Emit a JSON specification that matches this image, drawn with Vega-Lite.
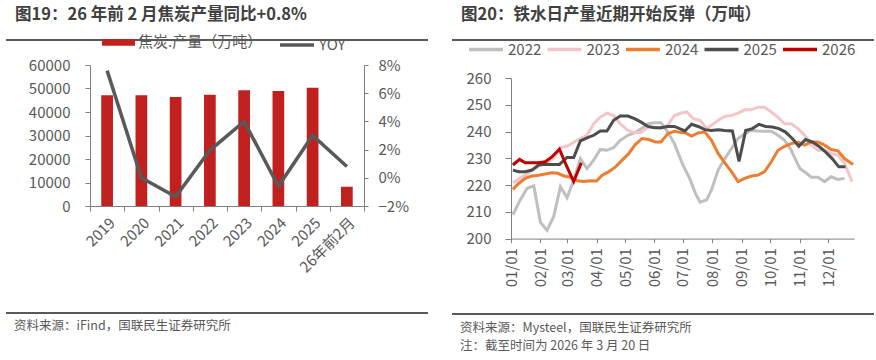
{
  "$schema": "https://vega.github.io/schema/vega-lite/v6.json",
  "padding": {"left": 5, "top": 6, "right": 0, "bottom": 0},
  "spacing": 22,
  "resolve": {"scale": {"color": "independent", "stroke": "independent"}, "legend": {"color": "independent", "stroke": "independent"}},
  "config": {
    "font": "Noto Sans CJK SC",
    "view": {"stroke": null},
    "axis": {"labelFont": "Noto Sans CJK SC", "labelFontSize": 15, "labelColor": "#595959", "domainColor": "#808080", "tickColor": "#808080", "grid": false},
    "legend": {"labelFont": "Noto Sans CJK SC", "labelColor": "#595959"},
    "title": {"font": "Noto Sans CJK SC"}
  },
  "hconcat": [
    {
      "spacing": 0,
      "vconcat": [
        {
          "width": 422, "height": 18,
          "title": {"text": "图19：26 年前 2 月焦炭产量同比+0.8%", "anchor": "start", "dx": 10, "offset": 0, "baseline": "bottom", "fontSize": 16.5, "fontWeight": "bold", "color": "#404040"},
          "data": {"values": [{"a": 0}]},
          "mark": {"type": "rule", "color": "#595959", "strokeWidth": 2},
          "encoding": {
            "x": {"datum": 0, "type": "quantitative", "scale": {"domain": [0, 1]}, "axis": null},
            "x2": {"datum": 1},
            "y": {"datum": 1, "type": "quantitative", "scale": {"domain": [0, 1]}, "axis": null}
          }
        },
        {
          "spacing": 0,
          "hconcat": [
            {
              "width": 1, "height": 1,
              "data": {"values": [{"a": 0}]},
              "mark": {"type": "text", "text": ""},
              "encoding": {}
            },
            {
              "width": 274, "height": 141,
              "data": {"values": [
                {"period": "2019", "prod": 47100, "yoy": 0.076},
                {"period": "2020", "prod": 47100, "yoy": 0.0},
                {"period": "2021", "prod": 46400, "yoy": -0.0135},
                {"period": "2022", "prod": 47300, "yoy": 0.0195},
                {"period": "2023", "prod": 49260, "yoy": 0.04},
                {"period": "2024", "prod": 48900, "yoy": -0.006},
                {"period": "2025", "prod": 50300, "yoy": 0.03},
                {"period": "26年前2月", "prod": 8230, "yoy": 0.008}
              ]},
              "encoding": {
                "x": {"field": "period", "type": "nominal", "sort": null, "scale": {"paddingInner": 0, "paddingOuter": 0},
                  "axis": {"title": null, "tickBand": "extent", "labelAngle": -45, "labelAlign": "right", "labelBaseline": "top", "tickSize": 5, "labelPadding": 4, "minExtent": 105.7, "maxExtent": 105.7}}
              },
              "layer": [
                {
                  "mark": {"type": "bar", "size": 11.7},
                  "encoding": {
                    "y": {"field": "prod", "type": "quantitative", "scale": {"domain": [0, 60000]},
                      "axis": {"orient": "left", "title": null, "values": [0, 10000, 20000, 30000, 40000, 50000, 60000], "format": "d", "tickSize": 5, "labelPadding": 15, "minExtent": 82.7, "maxExtent": 82.7}},
                    "color": {"datum": "焦炭:产量（万吨）", "type": "nominal", "scale": {"range": ["#C0201E"]},
                      "legend": {"orient": "none", "legendX": 96, "legendY": -14.1, "title": null, "symbolType": "M-1,-0.21H1V0.21H-1Z", "symbolSize": 1089, "symbolStrokeWidth": 0, "labelFontSize": 15, "labelOffset": 3}}
                  }
                },
                {
                  "mark": {"type": "line", "strokeWidth": 3.5},
                  "encoding": {
                    "y": {"field": "yoy", "type": "quantitative", "scale": {"domain": [-0.02, 0.08]},
                      "axis": {"orient": "right", "title": null, "values": [-0.02, 0, 0.02, 0.04, 0.06, 0.08], "format": ".0%", "tickSize": 4, "labelPadding": 10, "minExtent": 64.3, "maxExtent": 64.3}},
                    "stroke": {"datum": "YOY", "type": "nominal", "scale": {"range": ["#595959"]},
                      "legend": {"orient": "none", "legendX": 272, "legendY": -14.1, "title": null, "symbolType": "stroke", "symbolSize": 1156, "symbolStrokeWidth": 3.5, "labelFontSize": 15, "labelOffset": 3}}
                  }
                }
              ],
              "resolve": {"scale": {"y": "independent"}}
            }
          ]
        },
        {
          "width": 422, "height": 1,
          "title": {"text": "资料来源：iFind，国联民生证券研究所", "orient": "bottom", "anchor": "start", "dx": 9, "offset": 6, "fontSize": 12.5, "fontWeight": "normal", "color": "#595959"},
          "data": {"values": [{"a": 0}]},
          "mark": {"type": "rule", "color": "#595959", "strokeWidth": 2},
          "encoding": {
            "x": {"datum": 0, "type": "quantitative", "scale": {"domain": [0, 1]}, "axis": null},
            "x2": {"datum": 1},
            "y": {"datum": 1, "type": "quantitative", "scale": {"domain": [0, 1]}, "axis": null}
          }
        }
      ]
    },
    {
      "spacing": 0,
      "vconcat": [
        {
          "width": 422, "height": 30.1,
          "title": {"text": "图20：铁水日产量近期开始反弹（万吨）", "anchor": "start", "dx": 10, "offset": 0, "baseline": "bottom", "fontSize": 16.5, "fontWeight": "bold", "color": "#404040"},
          "data": {"values": [{"a": 0}]},
          "mark": {"type": "rule", "color": "#595959", "strokeWidth": 2},
          "encoding": {
            "x": {"datum": 0, "type": "quantitative", "scale": {"domain": [0, 1]}, "axis": null},
            "x2": {"datum": 1},
            "y": {"datum": 1, "type": "quantitative", "scale": {"domain": [0, 1]}, "axis": null}
          }
        },
        {
          "spacing": 0,
          "hconcat": [
            {
              "width": 1, "height": 1,
              "data": {"values": [{"a": 0}]},
              "mark": {"type": "text", "text": ""},
              "encoding": {}
            },
            {
              "width": 343, "height": 160.6,
              "data": {"values": [
                {"yr": "2022", "d": "2001-01-03", "v": 208.9},
                {"yr": "2022", "d": "2001-01-10", "v": 214.0},
                {"yr": "2022", "d": "2001-01-18", "v": 218.8},
                {"yr": "2022", "d": "2001-01-25", "v": 219.7},
                {"yr": "2022", "d": "2001-02-01", "v": 206.0},
                {"yr": "2022", "d": "2001-02-08", "v": 203.1},
                {"yr": "2022", "d": "2001-02-15", "v": 208.3},
                {"yr": "2022", "d": "2001-02-22", "v": 219.4},
                {"yr": "2022", "d": "2001-03-01", "v": 215.3},
                {"yr": "2022", "d": "2001-03-08", "v": 221.9},
                {"yr": "2022", "d": "2001-03-15", "v": 229.9},
                {"yr": "2022", "d": "2001-03-22", "v": 226.2},
                {"yr": "2022", "d": "2001-03-29", "v": 229.3},
                {"yr": "2022", "d": "2001-04-05", "v": 233.3},
                {"yr": "2022", "d": "2001-04-12", "v": 233.0},
                {"yr": "2022", "d": "2001-04-19", "v": 234.0},
                {"yr": "2022", "d": "2001-04-26", "v": 236.7},
                {"yr": "2022", "d": "2001-05-04", "v": 238.6},
                {"yr": "2022", "d": "2001-05-11", "v": 239.5},
                {"yr": "2022", "d": "2001-05-18", "v": 241.0},
                {"yr": "2022", "d": "2001-05-25", "v": 242.9},
                {"yr": "2022", "d": "2001-06-01", "v": 243.3},
                {"yr": "2022", "d": "2001-06-08", "v": 243.3},
                {"yr": "2022", "d": "2001-06-15", "v": 239.8},
                {"yr": "2022", "d": "2001-06-22", "v": 235.5},
                {"yr": "2022", "d": "2001-07-01", "v": 227.4},
                {"yr": "2022", "d": "2001-07-08", "v": 222.5},
                {"yr": "2022", "d": "2001-07-14", "v": 217.0},
                {"yr": "2022", "d": "2001-07-19", "v": 213.6},
                {"yr": "2022", "d": "2001-07-26", "v": 214.5},
                {"yr": "2022", "d": "2001-07-31", "v": 218.2},
                {"yr": "2022", "d": "2001-08-07", "v": 225.6},
                {"yr": "2022", "d": "2001-08-14", "v": 229.9},
                {"yr": "2022", "d": "2001-08-21", "v": 233.6},
                {"yr": "2022", "d": "2001-08-28", "v": 237.4},
                {"yr": "2022", "d": "2001-09-04", "v": 239.2},
                {"yr": "2022", "d": "2001-09-11", "v": 240.4},
                {"yr": "2022", "d": "2001-09-18", "v": 240.2},
                {"yr": "2022", "d": "2001-09-25", "v": 240.1},
                {"yr": "2022", "d": "2001-10-02", "v": 240.1},
                {"yr": "2022", "d": "2001-10-09", "v": 238.6},
                {"yr": "2022", "d": "2001-10-16", "v": 236.7},
                {"yr": "2022", "d": "2001-10-23", "v": 233.0},
                {"yr": "2022", "d": "2001-10-27", "v": 229.9},
                {"yr": "2022", "d": "2001-11-01", "v": 226.2},
                {"yr": "2022", "d": "2001-11-08", "v": 224.4},
                {"yr": "2022", "d": "2001-11-13", "v": 222.9},
                {"yr": "2022", "d": "2001-11-20", "v": 222.9},
                {"yr": "2022", "d": "2001-11-27", "v": 221.3},
                {"yr": "2022", "d": "2001-12-04", "v": 223.1},
                {"yr": "2022", "d": "2001-12-11", "v": 222.1},
                {"yr": "2022", "d": "2001-12-18", "v": 222.5},
                {"yr": "2023", "d": "2001-01-03", "v": 220.8},
                {"yr": "2023", "d": "2001-01-10", "v": 222.5},
                {"yr": "2023", "d": "2001-01-17", "v": 224.0},
                {"yr": "2023", "d": "2001-01-24", "v": 225.5},
                {"yr": "2023", "d": "2001-02-01", "v": 227.5},
                {"yr": "2023", "d": "2001-02-08", "v": 228.5},
                {"yr": "2023", "d": "2001-02-15", "v": 230.0},
                {"yr": "2023", "d": "2001-02-22", "v": 234.0},
                {"yr": "2023", "d": "2001-03-01", "v": 234.5},
                {"yr": "2023", "d": "2001-03-08", "v": 236.0},
                {"yr": "2023", "d": "2001-03-15", "v": 237.4},
                {"yr": "2023", "d": "2001-03-22", "v": 238.6},
                {"yr": "2023", "d": "2001-03-29", "v": 242.9},
                {"yr": "2023", "d": "2001-04-05", "v": 245.4},
                {"yr": "2023", "d": "2001-04-12", "v": 246.9},
                {"yr": "2023", "d": "2001-04-19", "v": 246.0},
                {"yr": "2023", "d": "2001-04-26", "v": 242.9},
                {"yr": "2023", "d": "2001-05-04", "v": 240.4},
                {"yr": "2023", "d": "2001-05-11", "v": 239.6},
                {"yr": "2023", "d": "2001-05-18", "v": 239.6},
                {"yr": "2023", "d": "2001-05-25", "v": 241.7},
                {"yr": "2023", "d": "2001-06-01", "v": 241.5},
                {"yr": "2023", "d": "2001-06-08", "v": 241.2},
                {"yr": "2023", "d": "2001-06-15", "v": 242.3},
                {"yr": "2023", "d": "2001-06-22", "v": 246.0},
                {"yr": "2023", "d": "2001-06-29", "v": 246.9},
                {"yr": "2023", "d": "2001-07-05", "v": 247.3},
                {"yr": "2023", "d": "2001-07-12", "v": 244.8},
                {"yr": "2023", "d": "2001-07-19", "v": 244.2},
                {"yr": "2023", "d": "2001-07-26", "v": 241.1},
                {"yr": "2023", "d": "2001-07-31", "v": 242.3},
                {"yr": "2023", "d": "2001-08-07", "v": 244.2},
                {"yr": "2023", "d": "2001-08-14", "v": 245.6},
                {"yr": "2023", "d": "2001-08-21", "v": 246.0},
                {"yr": "2023", "d": "2001-08-28", "v": 246.9},
                {"yr": "2023", "d": "2001-09-04", "v": 248.1},
                {"yr": "2023", "d": "2001-09-11", "v": 248.1},
                {"yr": "2023", "d": "2001-09-18", "v": 249.1},
                {"yr": "2023", "d": "2001-09-25", "v": 249.1},
                {"yr": "2023", "d": "2001-10-02", "v": 247.3},
                {"yr": "2023", "d": "2001-10-09", "v": 245.4},
                {"yr": "2023", "d": "2001-10-16", "v": 242.9},
                {"yr": "2023", "d": "2001-10-23", "v": 242.9},
                {"yr": "2023", "d": "2001-10-30", "v": 241.1},
                {"yr": "2023", "d": "2001-11-06", "v": 238.6},
                {"yr": "2023", "d": "2001-11-13", "v": 234.9},
                {"yr": "2023", "d": "2001-11-20", "v": 233.0},
                {"yr": "2023", "d": "2001-11-27", "v": 233.0},
                {"yr": "2023", "d": "2001-12-04", "v": 231.8},
                {"yr": "2023", "d": "2001-12-11", "v": 231.2},
                {"yr": "2023", "d": "2001-12-18", "v": 228.1},
                {"yr": "2023", "d": "2001-12-26", "v": 221.3},
                {"yr": "2024", "d": "2001-01-03", "v": 218.4},
                {"yr": "2024", "d": "2001-01-09", "v": 220.6},
                {"yr": "2024", "d": "2001-01-16", "v": 222.5},
                {"yr": "2024", "d": "2001-01-23", "v": 223.4},
                {"yr": "2024", "d": "2001-01-30", "v": 223.7},
                {"yr": "2024", "d": "2001-02-06", "v": 224.1},
                {"yr": "2024", "d": "2001-02-13", "v": 224.6},
                {"yr": "2024", "d": "2001-02-19", "v": 224.4},
                {"yr": "2024", "d": "2001-02-26", "v": 223.4},
                {"yr": "2024", "d": "2001-03-05", "v": 222.9},
                {"yr": "2024", "d": "2001-03-12", "v": 221.6},
                {"yr": "2024", "d": "2001-03-19", "v": 221.3},
                {"yr": "2024", "d": "2001-03-26", "v": 221.6},
                {"yr": "2024", "d": "2001-04-01", "v": 221.5},
                {"yr": "2024", "d": "2001-04-07", "v": 223.7},
                {"yr": "2024", "d": "2001-04-14", "v": 225.0},
                {"yr": "2024", "d": "2001-04-21", "v": 226.8},
                {"yr": "2024", "d": "2001-04-28", "v": 229.3},
                {"yr": "2024", "d": "2001-05-05", "v": 231.8},
                {"yr": "2024", "d": "2001-05-12", "v": 235.2},
                {"yr": "2024", "d": "2001-05-19", "v": 237.4},
                {"yr": "2024", "d": "2001-05-26", "v": 237.0},
                {"yr": "2024", "d": "2001-06-02", "v": 236.1},
                {"yr": "2024", "d": "2001-06-08", "v": 236.1},
                {"yr": "2024", "d": "2001-06-15", "v": 239.2},
                {"yr": "2024", "d": "2001-06-22", "v": 240.1},
                {"yr": "2024", "d": "2001-06-29", "v": 239.6},
                {"yr": "2024", "d": "2001-07-03", "v": 239.6},
                {"yr": "2024", "d": "2001-07-10", "v": 238.3},
                {"yr": "2024", "d": "2001-07-17", "v": 239.5},
                {"yr": "2024", "d": "2001-07-24", "v": 239.8},
                {"yr": "2024", "d": "2001-07-31", "v": 236.7},
                {"yr": "2024", "d": "2001-08-07", "v": 231.8},
                {"yr": "2024", "d": "2001-08-14", "v": 228.3},
                {"yr": "2024", "d": "2001-08-21", "v": 225.0},
                {"yr": "2024", "d": "2001-08-28", "v": 221.3},
                {"yr": "2024", "d": "2001-09-04", "v": 222.5},
                {"yr": "2024", "d": "2001-09-11", "v": 223.4},
                {"yr": "2024", "d": "2001-09-18", "v": 223.7},
                {"yr": "2024", "d": "2001-09-25", "v": 225.0},
                {"yr": "2024", "d": "2001-10-02", "v": 228.7},
                {"yr": "2024", "d": "2001-10-09", "v": 233.0},
                {"yr": "2024", "d": "2001-10-16", "v": 234.5},
                {"yr": "2024", "d": "2001-10-23", "v": 235.5},
                {"yr": "2024", "d": "2001-10-30", "v": 236.1},
                {"yr": "2024", "d": "2001-11-06", "v": 234.9},
                {"yr": "2024", "d": "2001-11-13", "v": 236.1},
                {"yr": "2024", "d": "2001-11-20", "v": 236.1},
                {"yr": "2024", "d": "2001-11-27", "v": 234.9},
                {"yr": "2024", "d": "2001-12-04", "v": 233.3},
                {"yr": "2024", "d": "2001-12-11", "v": 232.8},
                {"yr": "2024", "d": "2001-12-18", "v": 229.9},
                {"yr": "2024", "d": "2001-12-27", "v": 227.7},
                {"yr": "2025", "d": "2001-01-03", "v": 225.6},
                {"yr": "2025", "d": "2001-01-09", "v": 225.0},
                {"yr": "2025", "d": "2001-01-16", "v": 225.0},
                {"yr": "2025", "d": "2001-01-23", "v": 225.6},
                {"yr": "2025", "d": "2001-01-30", "v": 227.5},
                {"yr": "2025", "d": "2001-02-06", "v": 227.8},
                {"yr": "2025", "d": "2001-02-13", "v": 227.7},
                {"yr": "2025", "d": "2001-02-21", "v": 227.7},
                {"yr": "2025", "d": "2001-03-01", "v": 230.3},
                {"yr": "2025", "d": "2001-03-08", "v": 230.3},
                {"yr": "2025", "d": "2001-03-15", "v": 236.5},
                {"yr": "2025", "d": "2001-03-22", "v": 237.6},
                {"yr": "2025", "d": "2001-03-29", "v": 238.6},
                {"yr": "2025", "d": "2001-04-05", "v": 240.2},
                {"yr": "2025", "d": "2001-04-12", "v": 240.2},
                {"yr": "2025", "d": "2001-04-19", "v": 244.2},
                {"yr": "2025", "d": "2001-04-26", "v": 245.8},
                {"yr": "2025", "d": "2001-05-04", "v": 245.8},
                {"yr": "2025", "d": "2001-05-11", "v": 244.8},
                {"yr": "2025", "d": "2001-05-18", "v": 243.5},
                {"yr": "2025", "d": "2001-05-25", "v": 241.9},
                {"yr": "2025", "d": "2001-06-01", "v": 241.4},
                {"yr": "2025", "d": "2001-06-08", "v": 241.4},
                {"yr": "2025", "d": "2001-06-15", "v": 241.9},
                {"yr": "2025", "d": "2001-06-22", "v": 241.9},
                {"yr": "2025", "d": "2001-07-03", "v": 240.2},
                {"yr": "2025", "d": "2001-07-10", "v": 242.7},
                {"yr": "2025", "d": "2001-07-17", "v": 241.9},
                {"yr": "2025", "d": "2001-07-24", "v": 240.7},
                {"yr": "2025", "d": "2001-07-31", "v": 240.4},
                {"yr": "2025", "d": "2001-08-07", "v": 240.7},
                {"yr": "2025", "d": "2001-08-14", "v": 240.4},
                {"yr": "2025", "d": "2001-08-22", "v": 240.2},
                {"yr": "2025", "d": "2001-08-29", "v": 228.8},
                {"yr": "2025", "d": "2001-09-05", "v": 240.4},
                {"yr": "2025", "d": "2001-09-12", "v": 241.1},
                {"yr": "2025", "d": "2001-09-19", "v": 242.7},
                {"yr": "2025", "d": "2001-09-26", "v": 241.9},
                {"yr": "2025", "d": "2001-10-03", "v": 241.7},
                {"yr": "2025", "d": "2001-10-10", "v": 241.1},
                {"yr": "2025", "d": "2001-10-17", "v": 239.8},
                {"yr": "2025", "d": "2001-10-24", "v": 237.4},
                {"yr": "2025", "d": "2001-10-31", "v": 234.5},
                {"yr": "2025", "d": "2001-11-07", "v": 237.0},
                {"yr": "2025", "d": "2001-11-14", "v": 236.1},
                {"yr": "2025", "d": "2001-11-21", "v": 234.5},
                {"yr": "2025", "d": "2001-11-28", "v": 232.4},
                {"yr": "2025", "d": "2001-12-05", "v": 229.9},
                {"yr": "2025", "d": "2001-12-12", "v": 226.8},
                {"yr": "2025", "d": "2001-12-19", "v": 226.8},
                {"yr": "2026", "d": "2001-01-03", "v": 227.5},
                {"yr": "2026", "d": "2001-01-10", "v": 229.6},
                {"yr": "2026", "d": "2001-01-16", "v": 228.3},
                {"yr": "2026", "d": "2001-01-23", "v": 228.3},
                {"yr": "2026", "d": "2001-01-30", "v": 228.3},
                {"yr": "2026", "d": "2001-02-06", "v": 228.7},
                {"yr": "2026", "d": "2001-02-13", "v": 230.5},
                {"yr": "2026", "d": "2001-02-21", "v": 233.4},
                {"yr": "2026", "d": "2001-02-28", "v": 227.5},
                {"yr": "2026", "d": "2001-03-08", "v": 221.3},
                {"yr": "2026", "d": "2001-03-16", "v": 228.3}
              ]},
              "mark": {"type": "line", "strokeWidth": 3},
              "encoding": {
                "x": {"field": "d", "type": "temporal",
                  "scale": {"type": "utc", "domain": [{"year": 2001, "month": 1, "date": 1, "utc": true}, {"year": 2001, "month": 12, "date": 28, "utc": true}]},
                  "axis": {"title": null, "format": "%m/%d", "labelAngle": -90, "labelAlign": "right", "labelBaseline": "middle", "tickSize": 4, "labelPadding": 5, "minExtent": 73.7, "maxExtent": 73.7,
                    "values": [
                      {"year": 2001, "month": 1, "date": 1, "utc": true},
                      {"year": 2001, "month": 2, "date": 1, "utc": true},
                      {"year": 2001, "month": 3, "date": 1, "utc": true},
                      {"year": 2001, "month": 4, "date": 1, "utc": true},
                      {"year": 2001, "month": 5, "date": 1, "utc": true},
                      {"year": 2001, "month": 6, "date": 1, "utc": true},
                      {"year": 2001, "month": 7, "date": 1, "utc": true},
                      {"year": 2001, "month": 8, "date": 1, "utc": true},
                      {"year": 2001, "month": 9, "date": 1, "utc": true},
                      {"year": 2001, "month": 10, "date": 1, "utc": true},
                      {"year": 2001, "month": 11, "date": 1, "utc": true},
                      {"year": 2001, "month": 12, "date": 1, "utc": true}
                    ]}},
                "y": {"field": "v", "type": "quantitative", "scale": {"domain": [200, 260]},
                  "axis": {"title": null, "values": [200, 210, 220, 230, 240, 250, 260], "tickSize": 6, "labelPadding": 14, "minExtent": 57.3, "maxExtent": 57.3}},
                "color": {"field": "yr", "type": "nominal",
                  "scale": {"domain": ["2022", "2023", "2024", "2025", "2026"], "range": ["#BFBFBF", "#F2C6C9", "#ED7D31", "#4D4D4D", "#C00000"]},
                  "legend": {"orient": "none", "legendX": 15, "legendY": -9.4, "direction": "horizontal", "columns": 5, "title": null, "symbolType": "stroke", "symbolSize": 1156, "symbolStrokeWidth": 3.5, "labelFontSize": 15, "labelOffset": 3, "columnPadding": -1.5}}
              }
            }
          ]
        },
        {
          "width": 422, "height": 1,
          "title": {"text": ["资料来源：Mysteel，国联民生证券研究所", "注：截至时间为 2026 年 3 月 20 日"], "orient": "bottom", "anchor": "start", "dx": 9, "offset": 7, "lineHeight": 17.5, "fontSize": 12.5, "fontWeight": "normal", "color": "#595959"},
          "data": {"values": [{"a": 0}]},
          "mark": {"type": "rule", "color": "#595959", "strokeWidth": 2},
          "encoding": {
            "x": {"datum": 0, "type": "quantitative", "scale": {"domain": [0, 1]}, "axis": null},
            "x2": {"datum": 1},
            "y": {"datum": 1, "type": "quantitative", "scale": {"domain": [0, 1]}, "axis": null}
          }
        }
      ]
    }
  ]
}
